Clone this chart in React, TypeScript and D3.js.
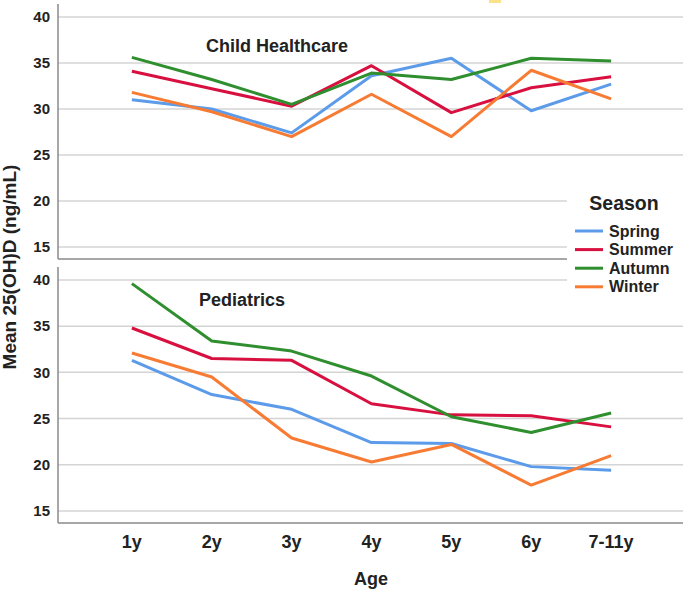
import * as d3 from 'd3';
import React from 'react';

// ages on the x axis
const ages = ['1y', '2y', '3y', '4y', '5y', '6y', '7-11y'];
const seasons = ['Spring', 'Summer', 'Autumn', 'Winter'];
const seasonColors = ['#5b9be9', '#d8103f', '#2f8f2f', '#f77b32'];
const yTicks = [15, 20, 25, 30, 35, 40];

// Child Healthcare panel
const chSpring = [31.0, 30.0, 27.4, 33.6, 35.5, 29.8, 32.7];
const chSummer = [34.1, 32.2, 30.3, 34.7, 29.6, 32.3, 33.5];
const chAutumn = [35.6, 33.2, 30.5, 33.9, 33.2, 35.5, 35.2];
const chWinter = [31.8, 29.7, 27.0, 31.6, 27.0, 34.2, 31.1];

// Pediatrics panel
const pedSpring = [31.3, 27.6, 26.0, 22.4, 22.3, 19.8, 19.4];
const pedSummer = [34.8, 31.5, 31.3, 26.6, 25.4, 25.3, 24.1];
const pedAutumn = [39.6, 33.4, 32.3, 29.6, 25.2, 23.5, 25.6];
const pedWinter = [32.1, 29.5, 22.9, 20.3, 22.2, 17.8, 21.0];

const panels = [
    { title: 'Child Healthcare', series: [chSpring, chSummer, chAutumn, chWinter], top: 4, bottom: 259, titleX: 277, titleY: 52 },
    { title: 'Pediatrics', series: [pedSpring, pedSummer, pedAutumn, pedWinter], top: 267, bottom: 523, titleX: 242, titleY: 306 },
];

const W = 685;
const H = 590;
const left = 58;
const right = 683;
const font = '"Liberation Sans", Arial, sans-serif';

const App: React.FC = () => {
    const x = d3.scalePoint<string>().domain(ages).range([60, right]).padding(0.9);

    return (
        <svg width={W} height={H} style={{ position: 'absolute', left: 0, top: 0, background: '#fff' }} fontFamily={font}>
            <rect x={489} y={0} width={12} height={3} fill="#fde08a" />
            {panels.map((p) => {
                const y = d3.scaleLinear().domain([13.7, 41.4]).range([p.bottom, p.top]);
                const line = d3
                    .line<number>()
                    .x((d, i) => x(ages[i]) ?? 0)
                    .y((d) => y(d));
                return (
                    <g key={p.title}>
                        {yTicks.map((t) => (
                            <g key={t}>
                                <line x1={left} x2={right} y1={y(t)} y2={y(t)} stroke="#d4d4d4" strokeWidth={1.5} />
                                <text x={50} y={y(t)} dy="0.35em" textAnchor="end" fontSize={15} fontWeight="bold" fill="#222">
                                    {t}
                                </text>
                            </g>
                        ))}
                        <line x1={left} x2={left} y1={p.top} y2={p.bottom} stroke="#8a8a8a" strokeWidth={1.5} />
                        <line x1={left} x2={right} y1={p.bottom} y2={p.bottom} stroke="#8a8a8a" strokeWidth={1.5} />
                        {p.series.map((s, i) => (
                            <path key={i} d={line(s) ?? ''} fill="none" stroke={seasonColors[i]} strokeWidth={3} strokeLinejoin="round" />
                        ))}
                        <text x={p.titleX} y={p.titleY} textAnchor="middle" fontSize={18} fontWeight="bold" fill="#222">
                            {p.title}
                        </text>
                    </g>
                );
            })}
            {ages.map((a) => (
                <text key={a} x={x(a)} y={548} textAnchor="middle" fontSize={18} fontWeight="bold" fill="#222">
                    {a}
                </text>
            ))}
            <text x={371} y={585} textAnchor="middle" fontSize={18} fontWeight="bold" fill="#222">
                Age
            </text>
            <text transform="translate(16,267) rotate(-90)" textAnchor="middle" fontSize={19} fontWeight="bold" fill="#222">
                Mean 25(OH)D (ng/mL)
            </text>
            <g>
                <rect x={567} y={188} width={118} height={110} fill="#fff" />
                <text x={624} y={210} textAnchor="middle" fontSize={19.5} fontWeight="bold" fill="#222">
                    Season
                </text>
                {seasons.map((s, i) => (
                    <g key={s} transform={`translate(0,${231 + i * 18.6})`}>
                        <line x1={575} x2={603} y1={0} y2={0} stroke={seasonColors[i]} strokeWidth={3} />
                        <text x={609} y={0} dy="0.35em" fontSize={16} fontWeight="bold" fill="#222">
                            {s}
                        </text>
                    </g>
                ))}
            </g>
        </svg>
    );
};

export default App;
